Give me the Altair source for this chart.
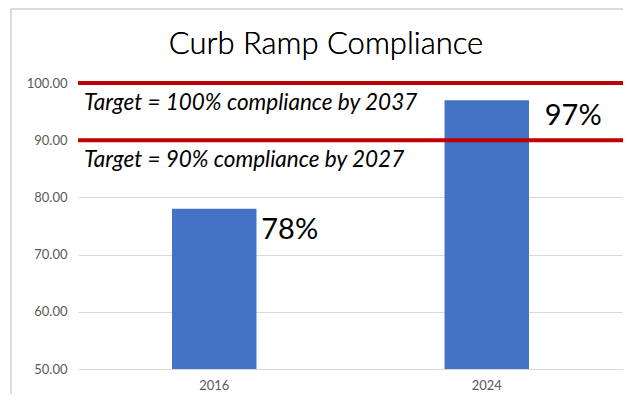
import altair as alt
import pandas as pd

years = ["2016", "2024"]
values = [78, 97]
labels = ["78%", "97%"]
target_values = [100, 90]
target_labels = ["Target = 100% compliance by 2037", "Target = 90% compliance by 2027"]
title_text = "Curb Ramp Compliance"

bars_df = pd.DataFrame({"year": years, "value": values, "label": labels})
targets_df = pd.DataFrame({"target": target_values, "text": target_labels})

W, H = 545, 286
FONT = "Lato"

x = alt.X("year:N", title=None,
          scale=alt.Scale(paddingInner=0.69, paddingOuter=0.345),
          axis=alt.Axis(labelAngle=0, ticks=False, domainColor="#D9D9D9",
                        labelColor="#595959", labelFontSize=13, labelPadding=10,
                        labelFont=FONT))
y = alt.Y("value:Q", title=None,
          scale=alt.Scale(domain=[50, 100], nice=False, zero=False),
          axis=alt.Axis(format=".2f", values=[50, 60, 70, 80, 90, 100], ticks=False,
                        domain=False, gridColor="#D9D9D9", labelColor="#595959",
                        labelFontSize=13, labelPadding=11, labelFont=FONT))

base = alt.Chart(bars_df)
bars = base.mark_bar(color="#4472C4").encode(x=x, y=y, y2=alt.datum(50))


def bar_label(year, dx, dy):
    return base.transform_filter(alt.datum.year == year).mark_text(
        align="left", baseline="middle", dx=dx, dy=dy, fontSize=29,
        font=FONT, color="#000000").encode(
        x=alt.X("year:N"), y=alt.Y("value:Q"), text="label:N")


lab1 = bar_label(years[0], 47, 21)
lab2 = bar_label(years[1], 58, 16)

tchart = alt.Chart(targets_df)
rules = tchart.mark_rule(color="#C00000", strokeWidth=4).encode(y=alt.Y("target:Q"))
ttext = tchart.mark_text(align="left", baseline="middle", dy=20, fontSize=22.5,
                         fontStyle="italic", font=FONT, color="#000000").encode(
    x=alt.value(6), y=alt.Y("target:Q"), text="text:N")

title = alt.Chart(bars_df).mark_text(fontSize=31, font=FONT, fontWeight=300,
                                     color="#000000", baseline="middle",
                                     align="center").encode(
    x=alt.value(248), y=alt.value(-38), text=alt.value(title_text))

frame_left = alt.Chart(bars_df).mark_rule(color="#D9D9D9", strokeWidth=1.5).encode(
    x=alt.value(-67), y=alt.value(-74), y2=alt.value(H + 25))
frame_top = alt.Chart(bars_df).mark_rule(color="#D9D9D9", strokeWidth=1.5).encode(
    x=alt.value(-67), x2=alt.value(W), y=alt.value(-74))

chart = alt.layer(frame_left, frame_top, bars, lab1, lab2, rules, ttext, title).properties(
    width=W, height=H,
    autosize=alt.AutoSizeParams(type="none"),
    padding={"left": 70, "top": 75, "right": 0, "bottom": 25},
).configure_view(stroke=None)

chart.save("out.html", embed_options={"renderer": "svg", "actions": False})
